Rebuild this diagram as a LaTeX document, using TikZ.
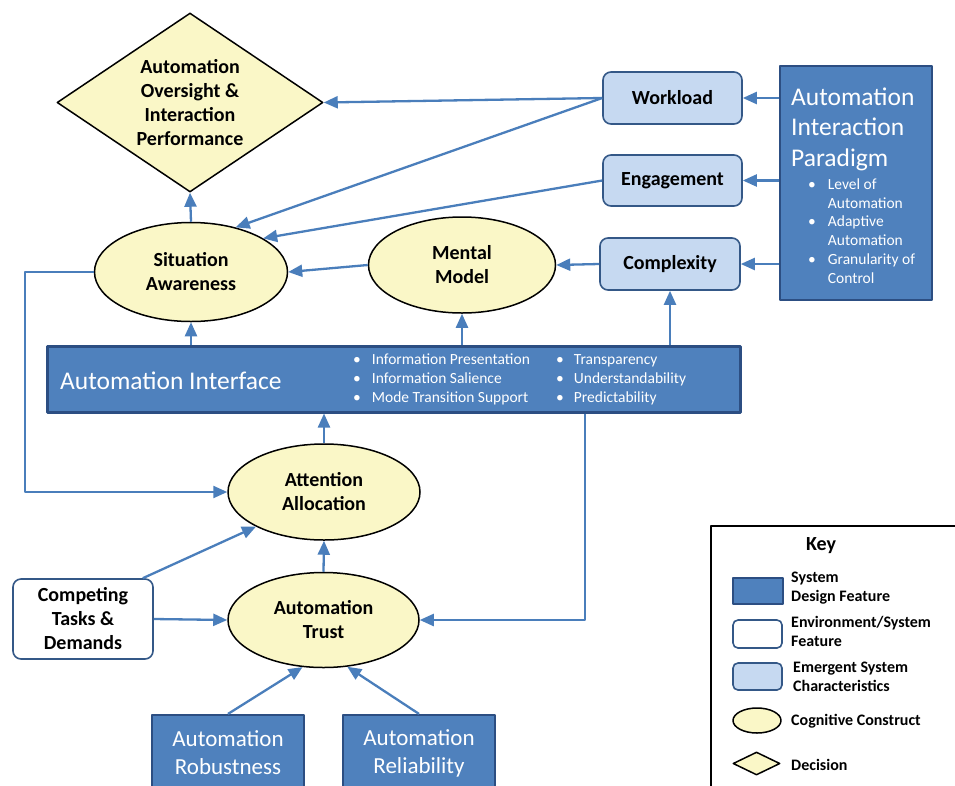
\documentclass[tikz,border=0pt]{standalone}
\usepackage{fontspec}
\setmainfont{Carlito}
\usepackage{tikz}
\usetikzlibrary{arrows.meta,shapes.geometric,positioning}
\definecolor{sysblue}{RGB}{79,129,189}
\definecolor{sysedge}{RGB}{44,78,130}
\definecolor{softblue}{RGB}{198,217,241}
\definecolor{softedge}{RGB}{52,88,135}
\definecolor{softyellow}{RGB}{250,247,199}
\definecolor{flowblue}{RGB}{74,126,187}

\begin{document}
\begin{tikzpicture}[x=1pt, y=-1pt, line join=round,
    boldtext/.style={font=\fontsize{20}{24}\selectfont\bfseries, align=center},
    cognitive/.style={ellipse, draw=black, line width=1.5pt, fill=softyellow, inner sep=0pt, boldtext},
    decision/.style={diamond, draw=black, line width=1.5pt, fill=softyellow, inner sep=0pt, boldtext},
    emergent/.style={rectangle, rounded corners=8pt, draw=softedge, line width=1.6pt, fill=softblue, inner sep=0pt, boldtext},
    envbox/.style={rectangle, rounded corners=8pt, draw=softedge, line width=1.6pt, fill=white, inner sep=0pt, boldtext},
    designbox/.style={rectangle, draw=sysedge, line width=2.2pt, fill=sysblue, text=white, inner sep=0pt,
      font=\fontsize{23}{28}\selectfont, align=center},
    whitetext/.style={text=white, inner sep=0pt, anchor=west},
    bullettext/.style={whitetext, font=\fontsize{15.5}{18.8}\selectfont},
    keytext/.style={font=\fontsize{16}{19}\selectfont\bfseries, align=left, anchor=west, inner sep=0pt},
    flow/.style={draw=flowblue, line width=2.3pt, -{Triangle[length=14pt,width=12pt]}}]

    \useasboundingbox (0,0) rectangle (955,785);

    % top row: decision and emergent characteristics
    \node[decision, minimum width=266pt, minimum height=179pt] (dec) at (190,102.5) {};
    \node[boldtext, inner sep=0pt] (dectext) at (dec) {Automation\\Oversight \&\\Interaction\\Performance};
    \node[emergent, minimum width=139pt, minimum height=52pt] (wl) at (672.5,98) {Workload};
    \node[emergent, minimum width=139pt, minimum height=51pt] (eng) at (672.5,180.5) {Engagement};
    \node[emergent, minimum width=140pt, minimum height=52pt] (cx) at (670,264) {Complexity};

    % interaction paradigm
    \node[designbox, minimum width=152pt, minimum height=234pt] (aip) at (856,183) {};
    \node[whitetext, font=\fontsize{25.5}{30.5}\selectfont, align=left] (aiptitle) at (791,129)
      {Automation\\Interaction\\Paradigm};
    \node[bullettext] (aiplist) at (808,232.5)
      {\begin{tabular}{@{}l@{\hspace{12pt}}l@{}}
        \textbullet & Level of\\ & Automation\\
        \textbullet & Adaptive\\ & Automation\\
        \textbullet & Granularity of\\ & Control
      \end{tabular}};

    % cognitive constructs
    \node[cognitive, minimum width=193pt, minimum height=99pt] (sa) at (191,272) {Situation\\Awareness};
    \node[cognitive, minimum width=187pt, minimum height=96pt] (mm) at (462,265) {Mental\\Model};
    \node[cognitive, minimum width=192pt, minimum height=96pt] (aa) at (324,492) {Attention\\Allocation};
    \node[cognitive, minimum width=191pt, minimum height=95pt] (at) at (323.5,620) {Automation\\Trust};

    % automation interface bar
    \node[designbox, line width=3pt, minimum width=693pt, minimum height=66pt] (ai) at (393.5,379) {};
    \node[whitetext, font=\fontsize{25.5}{30}\selectfont] (aititle) at (60,381) {Automation Interface};
    \node[bullettext] (aiinfo) at (353,380)
      {\begin{tabular}{@{}l@{\hspace{11pt}}l@{}}
        \textbullet & Information Presentation\\
        \textbullet & Information Salience\\
        \textbullet & Mode Transition Support
      \end{tabular}};
    \node[bullettext] (aiqual) at (556,380)
      {\begin{tabular}{@{}l@{\hspace{10pt}}l@{}}
        \textbullet & Transparency\\
        \textbullet & Understandability\\
        \textbullet & Predictability
      \end{tabular}};

    % lower features
    \node[envbox, minimum width=140pt, minimum height=80pt] (ct) at (83,619) {Competing\\Tasks \&\\Demands};
    \node[designbox, minimum width=152pt, minimum height=76pt] (rob) at (228,753) {Automation\\Robustness};
    \node[designbox, minimum width=152pt, minimum height=76pt] (rel) at (419,753) {Automation\\Reliability};

    % connectors
    \coordinate (loop) at (25,492);
    \coordinate (trustbend) at (585,620);
    \draw[flow] (aip.west |- wl.east) -- (wl.east);
    \draw[flow] (aip.west |- eng.east) -- (eng.east);
    \draw[flow] (aip.west |- cx.east) -- (cx.east);
    \draw[flow] (wl.west) -- (dec.east);
    \draw[flow] (wl.west) -- (sa.45);
    \draw[flow] (eng.west) -- (sa.25);
    \draw[flow] (cx.west) -- (mm.east);
    \draw[flow] (mm.west) -- (sa.east);
    \draw[flow] (sa.north) -- (dec.south);
    \draw[flow] (sa.south |- ai.north) -- (sa.south);
    \draw[flow] (mm.south |- ai.north) -- (mm.south);
    \draw[flow] (cx.south |- ai.north) -- (cx.south);
    \draw[flow] (aa.north) -- (aa.north |- ai.south);
    \draw[flow] (at.north) -- (aa.south);
    \draw[flow] (sa.west) -| (loop) -- (aa.west);
    \draw[flow] ([xshift=-11pt]ct.north east) -- (aa.207);
    \draw[flow] (ct.east) -- (at.west);
    \draw[flow] (ai.south -| trustbend) -- (trustbend) -- (at.east);
    \draw[flow] (rob.north) -- (at.246);
    \draw[flow] (rel.north) -- (at.297);

    % key
    \node[draw=black, line width=2pt, minimum width=260pt, minimum height=270pt, anchor=north west] (key) at (710,525) {};
    \node[font=\fontsize{20}{22}\selectfont\bfseries, inner sep=0pt] (keytitle) at (821,546) {Key};
    \node[designbox, line width=1.8pt, minimum width=50pt, minimum height=26pt] (kdesign) at (758,591) {};
    \node[envbox, rounded corners=5pt, minimum width=49pt, minimum height=28pt] (kenv) at (757.5,634) {};
    \node[emergent, rounded corners=5pt, minimum width=49pt, minimum height=27pt] (kemerg) at (757.5,676.5) {};
    \node[cognitive, minimum width=48pt, minimum height=25pt] (kcog) at (757,720.5) {};
    \node[decision, minimum width=47pt, minimum height=23pt] (kdec) at (756.5,763.5) {};
    \node[keytext] (kdesigntext) at (791,588.5) {System\\Design Feature};
    \node[keytext] (kenvtext) at (791,631.5) {Environment/System\\Feature};
    \node[keytext] (kemergtext) at (793,676.5) {Emergent System\\Characteristics};
    \node[keytext] (kcogtext) at (791,721) {Cognitive Construct};
    \node[keytext] (kdectext) at (791,765) {Decision};
\end{tikzpicture}
\end{document}
